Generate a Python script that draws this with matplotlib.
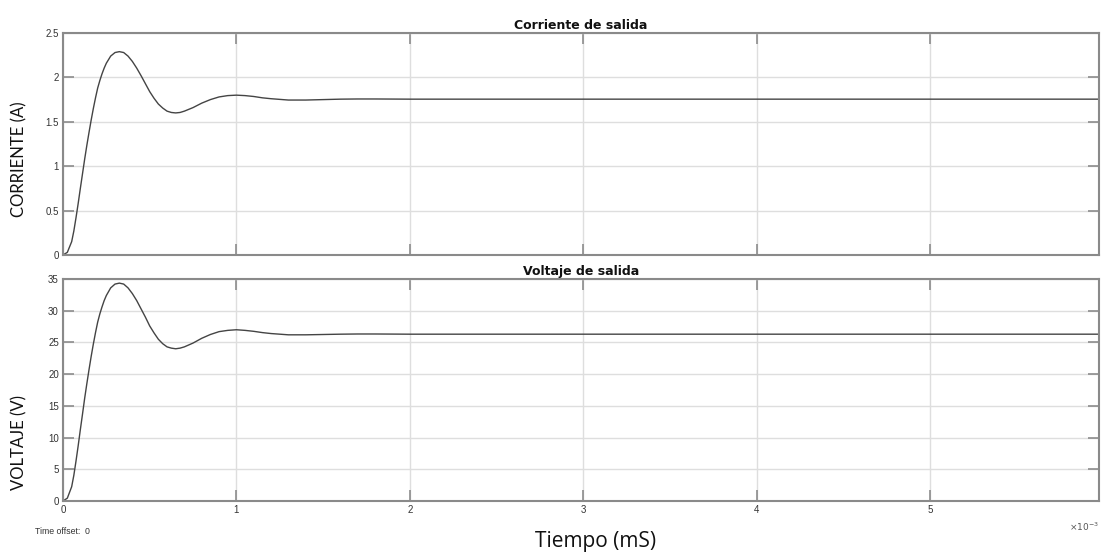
import matplotlib
matplotlib.use("Agg")
import matplotlib.pyplot as plt

# time in ms
t_ms = [0, 0.025, 0.05, 0.0625, 0.075, 0.0875, 0.1, 0.1125, 0.125, 0.1375, 0.15, 0.1625,
        0.175, 0.1875, 0.2, 0.2125, 0.225, 0.2375, 0.25, 0.275, 0.3, 0.325, 0.35, 0.375, 0.4,
        0.425, 0.45, 0.475, 0.5, 0.525, 0.55, 0.575, 0.6, 0.625, 0.65, 0.675, 0.7, 0.75, 0.8,
        0.85, 0.9, 0.95, 1.0, 1.05, 1.1, 1.15, 1.2, 1.3, 1.4, 1.5, 1.6, 1.7, 1.8, 2.0, 6.0]
corriente = [0, 0.03, 0.15, 0.27, 0.42, 0.58, 0.75, 0.915, 1.08, 1.235, 1.38, 1.52,
             1.65, 1.77, 1.88, 1.965, 2.04, 2.105, 2.16, 2.24, 2.28, 2.29, 2.28, 2.24, 2.18,
             2.105, 2.02, 1.93, 1.84, 1.765, 1.70, 1.655, 1.62, 1.605, 1.60, 1.605, 1.62, 1.66, 1.71,
             1.75, 1.78, 1.795, 1.80, 1.795, 1.785, 1.77, 1.76, 1.745, 1.745, 1.75, 1.755, 1.757, 1.757,
             1.755, 1.755]
voltaje = [0, 0.45, 2.25, 4.05, 6.3, 8.7, 11.25, 13.7, 16.2, 18.5, 20.7, 22.8,
           24.75, 26.55, 28.2, 29.5, 30.6, 31.6, 32.4, 33.6, 34.2, 34.35, 34.2, 33.6, 32.7,
           31.6, 30.3, 29.0, 27.6, 26.5, 25.5, 24.8, 24.3, 24.1, 24.0, 24.1, 24.3, 24.9, 25.65,
           26.25, 26.7, 26.9, 27.0, 26.9, 26.75, 26.55, 26.4, 26.2, 26.2, 26.25, 26.3, 26.33, 26.33,
           26.3, 26.3]

x_ticks = [0, 1, 2, 3, 4, 5]
i_ticks = [0, 0.5, 1, 1.5, 2, 2.5]
i_labels = ["0", "0.5", "1", "1.5", "2", "2.5"]
v_ticks = [0, 5, 10, 15, 20, 25, 30, 35]

W, H = 1101, 552
fig = plt.figure(figsize=(W / 100, H / 100), dpi=100)
fig.patch.set_facecolor("white")

def px_axes(l, t, r, b):
    return fig.add_axes([l / W, 1 - b / H, (r - l) / W, (b - t) / H])

ax1 = px_axes(63, 33, 1099, 255)
ax2 = px_axes(63, 279, 1099, 501)

tick_family = ["Liberation Sans", "DejaVu Sans"]
tick_size = 7

for ax, y, yt, ylim, title in [
    (ax1, corriente, i_ticks, (0, 2.5), "Corriente de salida"),
    (ax2, voltaje, v_ticks, (0, 35), "Voltaje de salida"),
]:
    ax.plot(t_ms, y, color="#444444", lw=1.0)
    ax.set_xlim(0, 5.975)
    ax.set_ylim(*ylim)
    ax.set_xticks(x_ticks)
    ax.set_yticks(yt)
    ax.grid(True, color="#dedede", lw=1.0)
    ax.set_axisbelow(True)
    ax.tick_params(direction="in", length=8, width=1.2, color="#8c8c8c",
                   top=True, right=True, labelcolor="#333333", pad=3)
    for sp in ax.spines.values():
        sp.set_color("#8a8a8a")
        sp.set_linewidth(1.5)
    ax.set_title(title, fontsize=9, fontweight="bold", color="#111111", pad=3,
                 family=["DejaVu Sans"])

ax1.set_yticklabels(i_labels)
ax1.tick_params(labelbottom=False)
for ax in (ax1, ax2):
    for lab in ax.get_yticklabels() + ax.get_xticklabels():
        lab.set_fontfamily(tick_family)
        lab.set_fontsize(tick_size)

fig.text(19 / W, 1 - 159 / H, "CORRIENTE (A)", rotation=90, ha="center", va="center",
         fontsize=12, family=["Lato", "DejaVu Sans"], color="#111111")
fig.text(19 / W, 1 - 442 / H, "VOLTAJE (V)", rotation=90, ha="center", va="center",
         fontsize=12, family=["Lato", "DejaVu Sans"], color="#111111")

fig.text(596 / W, 1 - 541 / H, "Tiempo (mS)", ha="center", va="center",
         fontsize=15, family=["Open Sans", "DejaVu Sans"], color="#111111")
fig.text(35 / W, 1 - 531 / H, "Time offset:  0", ha="left", va="center",
         fontsize=6.3, family=["Liberation Sans", "DejaVu Sans"], color="#333333")
fig.text(1084 / W, 1 - 527 / H, r"$\times10^{-3}$", ha="center", va="center",
         fontsize=6.5, color="#555555")

fig.savefig("out.png", dpi=100, facecolor="white")
